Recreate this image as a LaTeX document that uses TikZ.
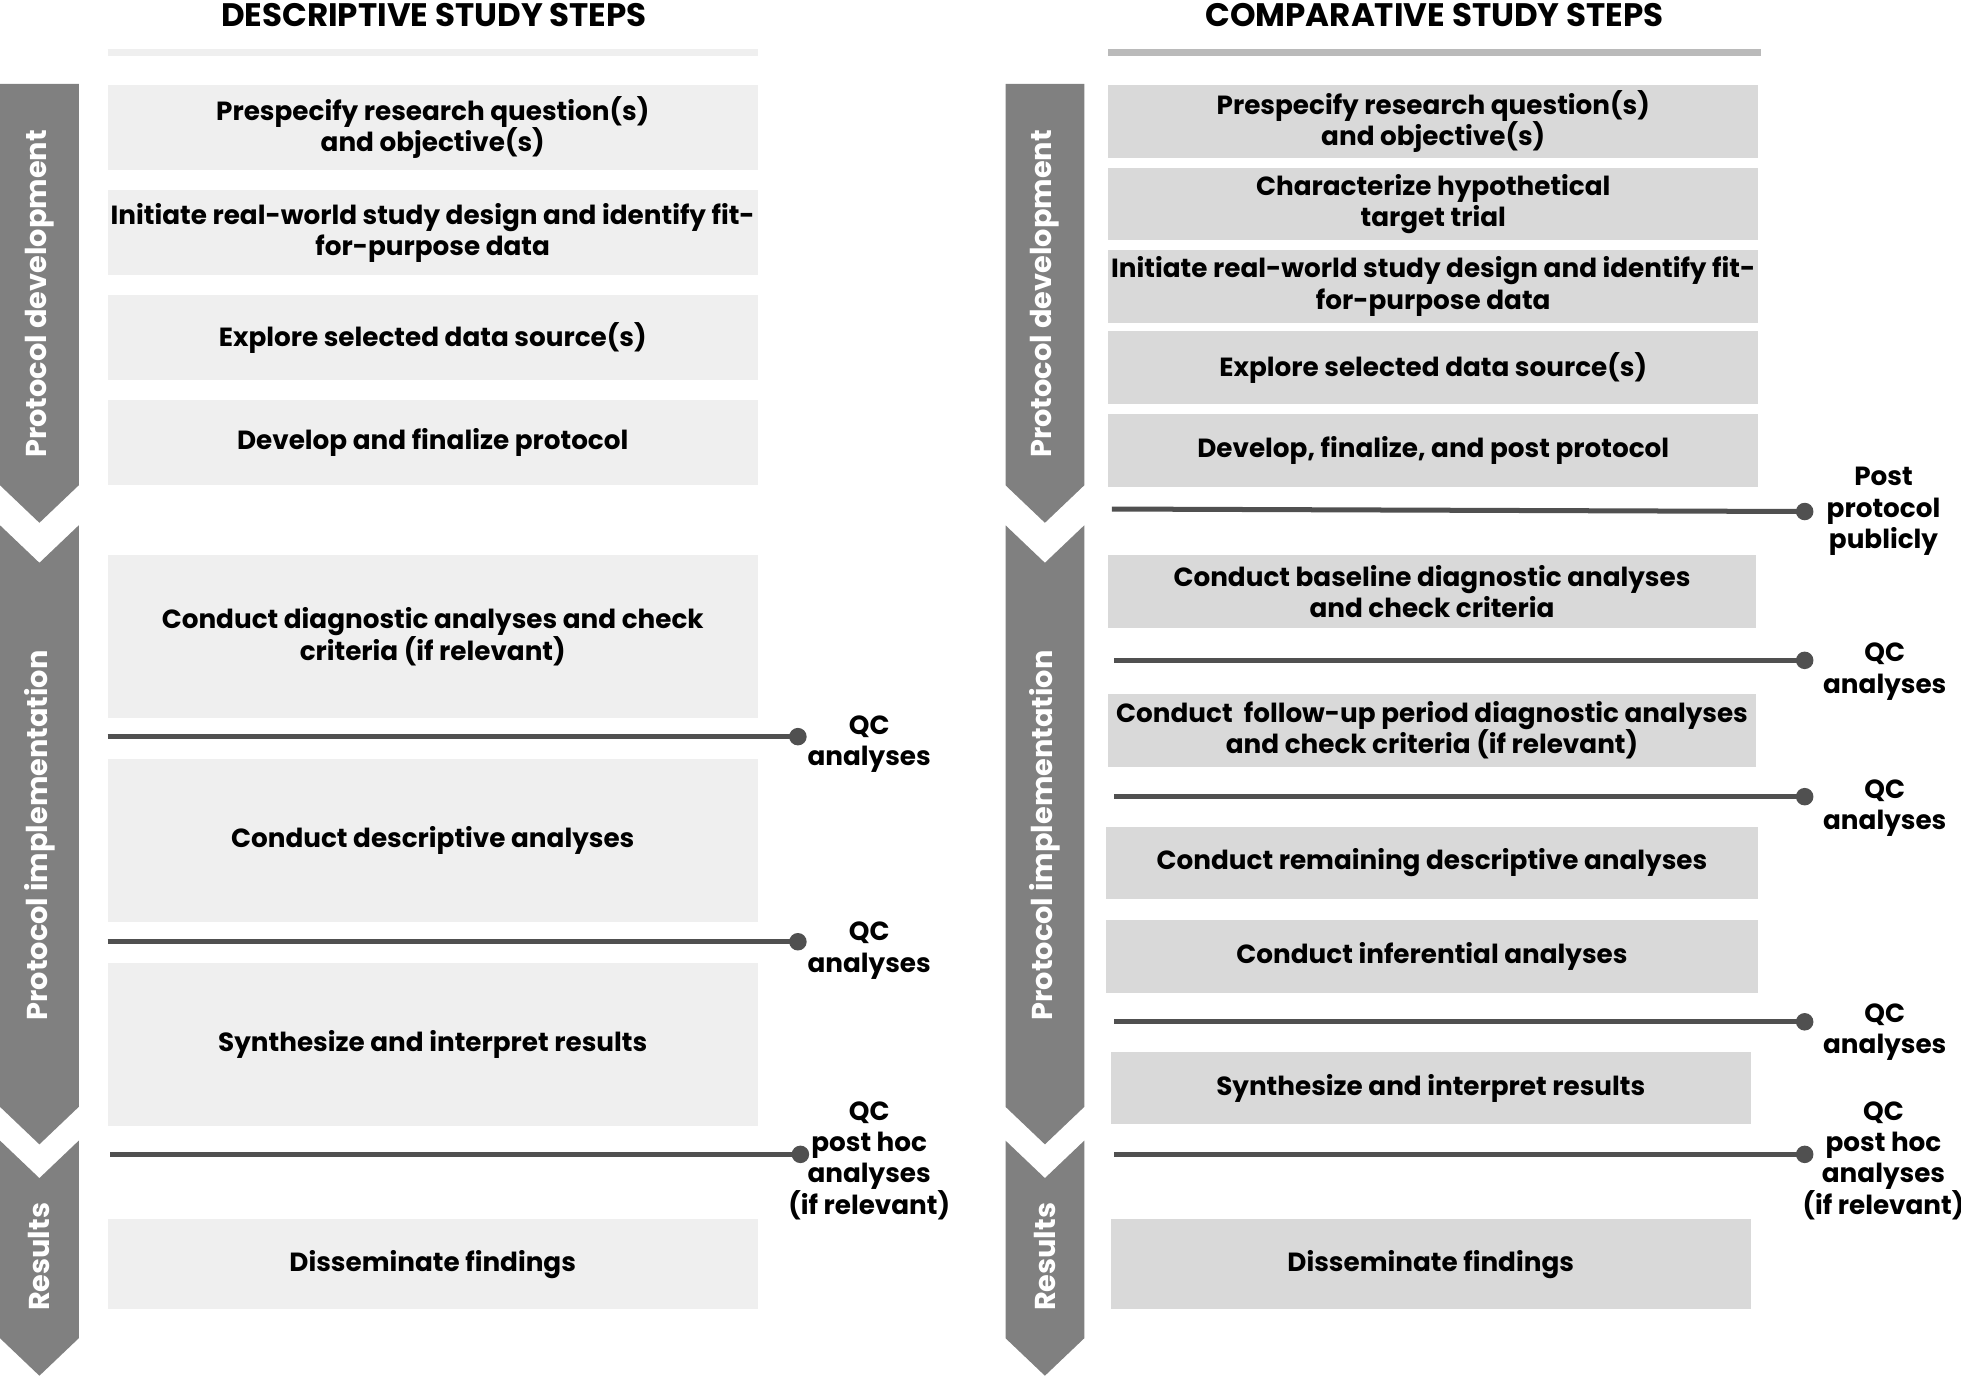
\documentclass[tikz,border=0pt]{standalone}
\usepackage{fontspec}
\setmainfont{Poppins}
\definecolor{lbox}{HTML}{EFEFEF}
\definecolor{rbox}{HTML}{D9D9D9}
\definecolor{chev}{HTML}{808080}
\definecolor{ln}{HTML}{505050}
\begin{document}
\begin{tikzpicture}[x=0.5pt,y=-0.5pt,
  every node/.style={font=\bfseries\fontsize{10.5}{12.5}\selectfont,align=center,inner sep=0},
  boxl/.style={fill=lbox},
  boxr/.style={fill=rbox},
  chevron/.style={fill=chev},
  chlabel/.style={rotate=90,text=white,font=\bfseries\fontsize{11.5}{13}\selectfont},
  qcline/.style={draw=ln,line width=2pt},
  dot/.style={circle,fill=ln,minimum size=7pt},
  title/.style={font=\bfseries\fontsize{13}{15}\selectfont}]
\useasboundingbox (0,0) rectangle (1568,1100);
% titles
\node[title] (t1) at (347,12) {DESCRIPTIVE STUDY STEPS};
\node[title] (t2) at (1147,12) {COMPARATIVE STUDY STEPS};
\draw[line width=2.5pt,draw=lbox] (86,42) -- (606,42);
\draw[line width=2.5pt,draw=black!27] (886,42) -- (1408,42);
% chevrons
\foreach \dx/\n in {0/L,804/R}{
\begin{scope}[xshift=\dx*0.5pt]
\fill[chevron] (0,67)--(63,67)--(63,388)--(31.5,418)--(0,388)--cycle;
\fill[chevron] (0,420)--(31.5,450)--(63,420)--(63,885)--(31.5,915)--(0,885)--cycle;
\fill[chevron] (0,912)--(31.5,942)--(63,912)--(63,1070)--(31.5,1100)--(0,1070)--cycle;
\node[chlabel] (pd\n) at (31.5,235) {Protocol development};
\node[chlabel] (pi\n) at (31.5,668) {Protocol implementation};
\node[chlabel] (rs\n) at (31.5,1005) {Results};
\end{scope}}
% left boxes
\fill[boxl] (86,68) rectangle (606,136); \node (l1) at (346,102) {Prespecify research question(s)\\and objective(s)};
\fill[boxl] (86,152) rectangle (606,220); \node (l2) at (346,186) {Initiate real-world study design and identify fit-\\for-purpose data};
\fill[boxl] (86,236) rectangle (606,304); \node (l3) at (346,270) {Explore selected data source(s)};
\fill[boxl] (86,320) rectangle (606,388); \node (l4) at (346,354) {Develop and finalize protocol};
\fill[boxl] (86,444) rectangle (606,574); \node (l5) at (346,509) {Conduct diagnostic analyses and check\\criteria (if relevant)};
\fill[boxl] (86,607) rectangle (606,737); \node (l6) at (346,672) {Conduct descriptive analyses};
\fill[boxl] (86,770) rectangle (606,900); \node (l7) at (346,835) {Synthesize and interpret results};
\fill[boxl] (86,975) rectangle (606,1047); \node (l8) at (346,1011) {Disseminate findings};
% left lines
\coordinate (a1) at (86,589); \node[dot] (d1) at (638,589) {};
\draw[qcline] (a1) -- (d1.center); \node (q1) at (695,595) {QC\\analyses};
\coordinate (a2) at (86,753); \node[dot] (d2) at (638,753) {};
\draw[qcline] (a2) -- (d2.center); \node (q2) at (695,760) {QC\\analyses};
\coordinate (a3) at (88,923); \node[dot] (d3) at (640,923) {};
\draw[qcline] (a3) -- (d3.center); \node (q3) at (695,928) {QC\\post hoc\\analyses\\(if relevant)};
% right boxes
\fill[boxr] (886,68) rectangle (1406,126); \node (r1) at (1146,97) {Prespecify research question(s)\\and objective(s)};
\fill[boxr] (886,134) rectangle (1406,192); \node (r2) at (1146,163) {Characterize hypothetical\\target trial};
\fill[boxr] (886,200) rectangle (1406,258); \node (r3) at (1146,229) {Initiate real-world study design and identify fit-\\for-purpose data};
\fill[boxr] (886,265) rectangle (1406,323); \node (r4) at (1146,294) {Explore selected data source(s)};
\fill[boxr] (886,331) rectangle (1406,389); \node (r5) at (1146,360) {Develop, finalize, and post protocol};
\fill[boxr] (886,444) rectangle (1404,502); \node (r6) at (1145,473) {Conduct baseline diagnostic analyses\\and check criteria};
\fill[boxr] (886,555) rectangle (1404,613); \node (r7) at (1145,584) {Conduct\ \ follow-up period diagnostic analyses\\and check criteria (if relevant)};
\fill[boxr] (884,661) rectangle (1406,719); \node (r8) at (1145,690) {Conduct remaining descriptive analyses};
\fill[boxr] (884,736) rectangle (1406,794); \node (r9) at (1145,765) {Conduct inferential analyses};
\fill[boxr] (888,841) rectangle (1400,899); \node (r10) at (1144,870) {Synthesize and interpret results};
\fill[boxr] (888,975) rectangle (1400,1047); \node (r11) at (1144,1011) {Disseminate findings};
% right lines
\coordinate (b1) at (889,407); \node[dot] (e1) at (1443,409) {};
\draw[qcline] (b1) -- (e1.center); \node (p1) at (1506,409) {Post\\protocol\\publicly};
\coordinate (b2) at (891,528); \node[dot] (e2) at (1443,528) {};
\draw[qcline] (b2) -- (e2.center); \node (p2) at (1507,537) {QC\\analyses};
\coordinate (b3) at (891,637); \node[dot] (e3) at (1443,637) {};
\draw[qcline] (b3) -- (e3.center); \node (p3) at (1507,646) {QC\\analyses};
\coordinate (b4) at (891,817); \node[dot] (e4) at (1443,817) {};
\draw[qcline] (b4) -- (e4.center); \node (p4) at (1507,825) {QC\\analyses};
\coordinate (b5) at (891,923); \node[dot] (e5) at (1443,923) {};
\draw[qcline] (b5) -- (e5.center); \node (p5) at (1506,928) {QC\\post hoc\\analyses\\(if relevant)};
\end{tikzpicture}
\end{document}
